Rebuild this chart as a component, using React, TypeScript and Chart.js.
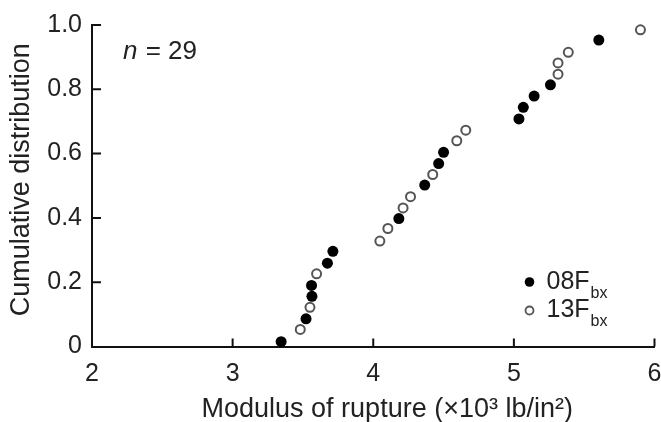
import React, { useEffect, useRef } from "react";
import { Chart, registerables } from "chart.js";

Chart.register(...registerables);

const FONT = "'Liberation Sans', Arial, Helvetica, sans-serif";
const TEXT = "#222";
const AXIS = "#111";

const xTickValues = [2, 3, 4, 5, 6];
const yTickValues = [0, 0.2, 0.4, 0.6, 0.8, 1.0];
const seriesNames = ["08F", "13F"];
const seriesSub = "bx";
const sampleSize = "29";
const xTitle = "Modulus of rupture (×10³ lb/in²)";
const yTitle = "Cumulative distribution";

// 08Fbx (filled)
const mor08 = [3.345, 3.522, 3.564, 3.561, 3.674, 3.713, 4.182, 4.366, 4.465, 4.5, 5.036, 5.067, 5.144, 5.26, 5.604];
const cdf08 = [0.015, 0.086, 0.156, 0.19, 0.259, 0.296, 0.398, 0.502, 0.569, 0.604, 0.708, 0.744, 0.779, 0.814, 0.953];
// 13Fbx (open)
const mor13 = [3.481, 3.55, 3.597, 4.047, 4.104, 4.212, 4.265, 4.423, 4.594, 4.658, 5.314, 5.314, 5.387, 5.9];
const cdf13 = [0.053, 0.122, 0.226, 0.328, 0.367, 0.431, 0.466, 0.535, 0.64, 0.673, 0.847, 0.882, 0.915, 0.985];

const decor = {
  id: "decor",
  afterDraw(chart: any) {
    const { ctx, chartArea: a, scales } = chart;
    const xs = scales.x;
    const ys = scales.y;
    ctx.save();
    // inward ticks
    ctx.strokeStyle = AXIS;
    ctx.lineWidth = 2;
    ctx.beginPath();
    xTickValues.forEach((v) => {
      if (v === xs.min) return;
      const px = xs.getPixelForValue(v);
      ctx.moveTo(px, a.bottom);
      ctx.lineTo(px, a.bottom - 8);
    });
    yTickValues.forEach((v) => {
      if (v === ys.min) return;
      const py = ys.getPixelForValue(v);
      ctx.moveTo(a.left, py);
      ctx.lineTo(a.left + 9, py);
    });
    ctx.stroke();

    ctx.fillStyle = TEXT;
    // axis titles
    ctx.font = `27px ${FONT}`;
    ctx.textAlign = "center";
    ctx.textBaseline = "middle";
    ctx.fillText(xTitle, (a.left + a.right) / 2 + 14, a.bottom + 63);
    ctx.save();
    ctx.translate(a.left - 70, (a.top + a.bottom) / 2 - 6);
    ctx.rotate(-Math.PI / 2);
    ctx.fillText(yTitle, 0, 0);
    ctx.restore();

    // n = 29
    ctx.textAlign = "left";
    ctx.textBaseline = "alphabetic";
    const nx = a.left + 31;
    const ny = a.top + 34;
    ctx.font = `italic 26px ${FONT}`;
    ctx.fillText("n", nx, ny);
    const nw = ctx.measureText("n").width;
    ctx.font = `26px ${FONT}`;
    ctx.fillText(" = " + sampleSize, nx + nw + 1, ny);

    // legend
    const lx = a.right - 125;
    const rows = [a.bottom - 64.5, a.bottom - 36];
    rows.forEach((ry, i) => {
      ctx.beginPath();
      if (i === 0) {
        ctx.arc(lx, ry, 4.8, 0, Math.PI * 2);
        ctx.fillStyle = "#000";
        ctx.fill();
      } else {
        ctx.arc(lx, ry, 4, 0, Math.PI * 2);
        ctx.fillStyle = "#fff";
        ctx.fill();
        ctx.lineWidth = 1.8;
        ctx.strokeStyle = "#555";
        ctx.stroke();
      }
      ctx.fillStyle = TEXT;
      ctx.font = `25px ${FONT}`;
      const tx = lx + 17;
      ctx.fillText(seriesNames[i], tx, ry + 6.5);
      const tw = ctx.measureText(seriesNames[i]).width;
      ctx.font = `16px ${FONT}`;
      ctx.fillText(seriesSub, tx + tw + 1, ry + 15.5);
    });
    ctx.restore();
  },
};

export default function App() {
  const ref = useRef<HTMLCanvasElement | null>(null);
  useEffect(() => {
    if (!ref.current) return;
    const chart = new Chart(ref.current, {
      type: "scatter",
      data: {
        datasets: [
          {
            label: seriesNames[0] + seriesSub,
            data: mor08.map((x, i) => ({ x, y: cdf08[i] })),
            pointStyle: "circle",
            pointRadius: 5.5,
            backgroundColor: "#000",
            borderColor: "#000",
            borderWidth: 0,
            clip: false,
          },
          {
            label: seriesNames[1] + seriesSub,
            data: mor13.map((x, i) => ({ x, y: cdf13[i] })),
            pointStyle: "circle",
            pointRadius: 4.5,
            backgroundColor: "#fff",
            borderColor: "#555",
            borderWidth: 2,
            clip: false,
          },
        ],
      },
      options: {
        responsive: false,
        animation: false,
        devicePixelRatio: 1,
        layout: { padding: { left: 0, right: 4, top: 20, bottom: 0 } },
        plugins: { legend: { display: false }, tooltip: { enabled: false } },
        scales: {
          x: {
            type: "linear",
            min: 2,
            max: 6,
            afterBuildTicks: (s: any) => {
              s.ticks = xTickValues.map((v) => ({ value: v }));
            },
            afterFit: (s: any) => {
              s.height = 75.5;
              s.paddingRight = 4;
            },
            grid: { display: false, drawTicks: false },
            border: { display: true, color: AXIS, width: 2 },
            ticks: {
              color: TEXT,
              font: { family: FONT, size: 25 },
              padding: 13,
              maxRotation: 0,
              callback: (v: any) => String(v),
            },
          },
          y: {
            type: "linear",
            min: 0,
            max: 1,
            afterBuildTicks: (s: any) => {
              s.ticks = yTickValues.map((v) => ({ value: v }));
            },
            afterFit: (s: any) => {
              s.width = 92;
            },
            grid: { display: false, drawTicks: false },
            border: { display: true, color: AXIS, width: 2 },
            ticks: {
              color: TEXT,
              font: { family: FONT, size: 25 },
              padding: 10,
              callback: (v: any) => (Number(v) === 0 ? "0" : Number(v).toFixed(1)),
            },
          },
        },
      },
      plugins: [decor],
    });
    return () => chart.destroy();
  }, []);
  return (
    <div style={{ position: "fixed", left: 0, top: 0, width: 661, height: 422, background: "#fff" }}>
      <canvas ref={ref} width={661} height={422} style={{ display: "block" }} />
    </div>
  );
}
